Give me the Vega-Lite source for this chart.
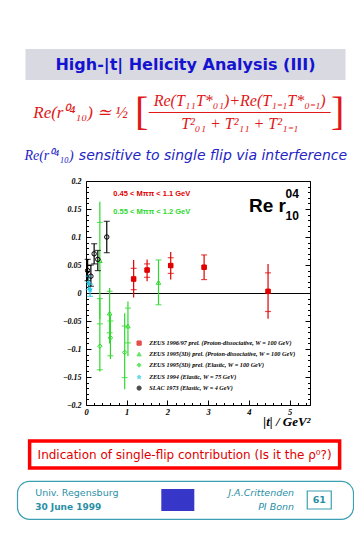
{
  "$schema": "https://vega.github.io/schema/vega-lite/v6.json",
  "background": "white",
  "padding": {"left": 16, "top": 49, "right": 0, "bottom": 0},
  "spacing": 10,
  "center": true,
  "config": {"view": {"stroke": null}},
  "vconcat": [
    {
      "width": 320, "height": 31,
      "view": {"fill": "#d9d9e1", "stroke": null},
      "data": {"values": [{}]},
      "mark": {"type": "text", "text": "High-|t| Helicity Analysis (III)", "font": "DejaVu Sans", "fontWeight": "bold", "fontSize": 16, "color": "#1414d0"}
    },
    {
      "spacing": 0,
      "hconcat": [
        {"width": 108, "height": 46, "data": {"values": [{}]},
         "mark": {"type": "text", "text": "Re(r⁰⁴₁₀) ≃ ½", "font": "Liberation Serif", "fontStyle": "italic", "fontSize": 17, "color": "#e01818"}},
        {"width": 8, "height": 46, "data": {"values": [{}]},
         "mark": {"type": "text", "text": "[", "font": "Liberation Serif", "fontSize": 40, "color": "#e01818"}},
        {"spacing": 0, "vconcat": [
          {"width": 182, "height": 22, "data": {"values": [{}]},
           "mark": {"type": "text", "text": "Re(T₁₁T*₀₁)+Re(T₁₋₁T*₀₋₁)", "font": "Liberation Serif", "fontStyle": "italic", "fontSize": 16, "color": "#e01818"}},
          {"width": 182, "height": 1, "view": {"fill": "#e01818", "stroke": null}, "data": {"values": []},
           "mark": {"type": "text", "text": ""}},
          {"width": 182, "height": 21, "data": {"values": [{}]},
           "mark": {"type": "text", "text": "T²₀₁ + T²₁₁ + T²₁₋₁", "font": "Liberation Serif", "fontStyle": "italic", "fontSize": 16, "color": "#e01818"}}
        ]},
        {"width": 8, "height": 46, "data": {"values": [{}]},
         "mark": {"type": "text", "text": "]", "font": "Liberation Serif", "fontSize": 40, "color": "#e01818"}}
      ]
    },
    {
      "spacing": 3,
      "hconcat": [
        {"width": 52, "height": 20, "data": {"values": [{}]},
         "mark": {"type": "text", "text": "Re(r⁰⁴₁₀)", "font": "Liberation Serif", "fontStyle": "italic", "fontSize": 14, "color": "#2424c4"}},
        {"width": 270, "height": 20, "data": {"values": [{}]},
         "mark": {"type": "text", "text": "sensitive to single flip via interference", "font": "DejaVu Sans", "fontStyle": "italic", "fontSize": 14, "color": "#2424c4"}}
      ]
    },
    {
      "spacing": 0,
      "hconcat": [
        {"width": 1, "height": 10, "data": {"values": []}, "mark": {"type": "text", "text": ""}},
        {
          "width": 224, "height": 224,
          "view": {"stroke": "black", "strokeWidth": 1},
          "data": {"values": [
            {"series": "ZEUS 1996/97 prel. (Proton-dissociative, W = 100 GeV)", "t": 1.17, "r": 0.025, "slo": 0.006, "shi": 0.044, "tlo": -0.008, "thi": 0.059},
            {"series": "ZEUS 1996/97 prel. (Proton-dissociative, W = 100 GeV)", "t": 1.50, "r": 0.041, "slo": 0.028, "shi": 0.052, "tlo": 0.021, "thi": 0.060},
            {"series": "ZEUS 1996/97 prel. (Proton-dissociative, W = 100 GeV)", "t": 2.08, "r": 0.049, "slo": 0.035, "shi": 0.063, "tlo": 0.024, "thi": 0.073},
            {"series": "ZEUS 1996/97 prel. (Proton-dissociative, W = 100 GeV)", "t": 2.90, "r": 0.046, "slo": 0.024, "shi": 0.068, "tlo": 0.024, "thi": 0.068},
            {"series": "ZEUS 1996/97 prel. (Proton-dissociative, W = 100 GeV)", "t": 4.47, "r": 0.003, "slo": -0.033, "shi": 0.036, "tlo": -0.046, "thi": 0.052},
            {"series": "ZEUS 1995(3D) prel. (Proton-dissociative, W = 100 GeV)", "t": 0.34, "r": 0.058, "slo": -0.010, "shi": 0.126, "tlo": -0.047, "thi": 0.163},
            {"series": "ZEUS 1995(3D) prel. (Proton-dissociative, W = 100 GeV)", "t": 0.58, "r": -0.036, "slo": -0.071, "shi": 0.003, "tlo": -0.090, "thi": 0.009},
            {"series": "ZEUS 1995(3D) prel. (Proton-dissociative, W = 100 GeV)", "t": 1.03, "r": -0.059, "slo": -0.089, "shi": -0.027, "tlo": -0.113, "thi": -0.015},
            {"series": "ZEUS 1995(3D) prel. (Proton-dissociative, W = 100 GeV)", "t": 1.78, "r": 0.019, "slo": -0.021, "shi": 0.059, "tlo": -0.021, "thi": 0.059},
            {"series": "ZEUS 1995(3D) prel. (Elastic, W = 100 GeV)", "t": 0.34, "r": -0.095, "slo": -0.137, "shi": -0.055, "tlo": -0.140, "thi": -0.010},
            {"series": "ZEUS 1995(3D) prel. (Elastic, W = 100 GeV)", "t": 0.60, "r": -0.080, "slo": -0.112, "shi": -0.050, "tlo": -0.118, "thi": -0.040},
            {"series": "ZEUS 1995(3D) prel. (Elastic, W = 100 GeV)", "t": 0.95, "r": -0.106, "slo": -0.151, "shi": -0.059, "tlo": -0.172, "thi": -0.036},
            {"series": "ZEUS 1994 (Elastic, W = 75 GeV)", "t": 0.06, "r": 0.018, "slo": 0.006, "shi": 0.030, "tlo": 0.006, "thi": 0.030},
            {"series": "ZEUS 1994 (Elastic, W = 75 GeV)", "t": 0.10, "r": 0.006, "slo": -0.006, "shi": 0.016, "tlo": -0.006, "thi": 0.016},
            {"series": "SLAC 1973 (Elastic, W = 4 GeV)", "t": 0.04, "r": 0.040, "slo": 0.022, "shi": 0.060, "tlo": 0.022, "thi": 0.060},
            {"series": "SLAC 1973 (Elastic, W = 4 GeV)", "t": 0.12, "r": 0.030, "slo": 0.012, "shi": 0.050, "tlo": 0.012, "thi": 0.050},
            {"series": "SLAC 1973 (Elastic, W = 4 GeV)", "t": 0.20, "r": 0.070, "slo": 0.052, "shi": 0.088, "tlo": 0.052, "thi": 0.088},
            {"series": "SLAC 1973 (Elastic, W = 4 GeV)", "t": 0.29, "r": 0.060, "slo": 0.040, "shi": 0.076, "tlo": 0.040, "thi": 0.076},
            {"series": "SLAC 1973 (Elastic, W = 4 GeV)", "t": 0.51, "r": 0.100, "slo": 0.072, "shi": 0.128, "tlo": 0.072, "thi": 0.128}
          ]},
          "resolve": {"axis": {"y": "independent"}},
          "layer": [
            {
              "mark": {"type": "rule", "strokeWidth": 1.2},
              "encoding": {
                "x": {"field": "t", "type": "quantitative", "scale": {"domain": [0, 5.5], "nice": false, "zero": false},
                  "axis": {"tickCount": 28, "tickSize": -5, "tickColor": "black", "tickWidth": 1,
                    "tickDash": {"condition": {"test": "abs(datum.value - round(datum.value)) < 0.000001", "value": []}, "value": [2.5, 20]},
                    "labelExpr": "abs(datum.value - round(datum.value)) < 0.000001 ? format(datum.value, 'd') : ''",
                    "labelOverlap": false, "labelFlush": false, "labelFont": "Liberation Serif", "labelFontStyle": "italic", "labelFontWeight": "bold", "labelFontSize": 8.5, "labelColor": "black", "labelPadding": 7,
                    "domain": false, "grid": false,
                    "title": "|t| / GeV²", "titleFont": "Liberation Serif", "titleFontStyle": "italic", "titleFontWeight": "bold", "titleFontSize": 13, "titleColor": "black", "titleAnchor": "end", "titlePadding": 0}},
                "y": {"field": "tlo", "type": "quantitative", "scale": {"domain": [-0.2, 0.2], "nice": false, "zero": false},
                  "axis": {"orient": "left", "tickCount": 40, "tickSize": -5, "tickColor": "black", "tickWidth": 1,
                    "tickDash": {"condition": {"test": "abs(datum.value * 20 - round(datum.value * 20)) < 0.000001", "value": []}, "value": [2.5, 20]},
                    "labelExpr": "abs(datum.value * 20 - round(datum.value * 20)) < 0.000001 ? format(datum.value, '.2~f') : ''",
                    "labelOverlap": false, "labelFont": "Liberation Serif", "labelFontStyle": "italic", "labelFontWeight": "bold", "labelFontSize": 8, "labelColor": "black", "labelPadding": 10,
                    "domain": false, "grid": true, "gridColor": "black", "gridWidth": 1,
                    "gridOpacity": {"condition": {"test": "abs(datum.value) < 0.000001", "value": 1}, "value": 0},
                    "title": null}},
                "y2": {"field": "thi"},
                "color": {"field": "series", "type": "nominal",
                  "scale": {"domain": ["ZEUS 1996/97 prel. (Proton-dissociative, W = 100 GeV)", "ZEUS 1995(3D) prel. (Proton-dissociative, W = 100 GeV)", "ZEUS 1995(3D) prel. (Elastic, W = 100 GeV)", "ZEUS 1994 (Elastic, W = 75 GeV)", "SLAC 1973 (Elastic, W = 4 GeV)"],
                    "range": ["#e00000", "#2ed82e", "#2ed82e", "#1ec8e6", "#000000"]}}
              }
            },
            {
              "mark": {"type": "tick", "orient": "horizontal", "size": 6, "thickness": 1.2},
              "encoding": {
                "x": {"field": "t", "type": "quantitative", "scale": {"domain": [0, 5.5], "nice": false, "zero": false}},
                "y": {"field": "slo", "type": "quantitative", "scale": {"domain": [-0.2, 0.2], "nice": false, "zero": false},
                  "axis": {"orient": "right", "tickCount": 40, "tickSize": -5, "tickColor": "black", "tickWidth": 1,
                    "tickDash": {"condition": {"test": "abs(datum.value * 20 - round(datum.value * 20)) < 0.000001", "value": []}, "value": [2.5, 20]},
                    "labels": false, "domain": false, "grid": false, "title": null}},
                "color": {"field": "series", "type": "nominal"}
              }
            },
            {
              "mark": {"type": "tick", "orient": "horizontal", "size": 6, "thickness": 1.2},
              "encoding": {
                "x": {"field": "t", "type": "quantitative", "scale": {"domain": [0, 5.5], "nice": false, "zero": false}},
                "y": {"field": "shi", "type": "quantitative", "scale": {"domain": [-0.2, 0.2], "nice": false, "zero": false}, "axis": null},
                "color": {"field": "series", "type": "nominal"}
              }
            },
            {
              "mark": {"type": "point", "filled": false, "size": 20, "strokeWidth": 1, "opacity": 1},
              "encoding": {
                "x": {"field": "t", "type": "quantitative", "scale": {"domain": [0, 5.5], "nice": false, "zero": false}},
                "y": {"field": "r", "type": "quantitative", "scale": {"domain": [-0.2, 0.2], "nice": false, "zero": false}, "axis": null},
                "color": {"field": "series", "type": "nominal",
                  "legend": {"orient": "none", "legendX": 119, "legendY": 291, "title": null, "labelFont": "Liberation Serif", "labelFontStyle": "italic", "labelFontWeight": "bold", "labelFontSize": 6.2, "labelLimit": 400, "labelOffset": 7, "rowPadding": 2, "symbolSize": 18, "symbolStrokeWidth": 1,
                    "encode": {"labels": {"update": {"fill": {"scale": "color", "field": "value"}}},
                      "symbols": {"update": {"fill": [{"test": "datum.value === 'ZEUS 1996/97 prel. (Proton-dissociative, W = 100 GeV)'", "value": "#e00000"}, {"value": "white"}]}}}}},
                "shape": {"field": "series", "type": "nominal",
                  "scale": {"domain": ["ZEUS 1996/97 prel. (Proton-dissociative, W = 100 GeV)", "ZEUS 1995(3D) prel. (Proton-dissociative, W = 100 GeV)", "ZEUS 1995(3D) prel. (Elastic, W = 100 GeV)", "ZEUS 1994 (Elastic, W = 75 GeV)", "SLAC 1973 (Elastic, W = 4 GeV)"],
                    "range": ["square", "triangle-up", "diamond", "M0,-1L0.235,-0.324L0.951,-0.309L0.38,0.124L0.588,0.809L0,0.4L-0.588,0.809L-0.38,0.124L-0.951,-0.309L-0.235,-0.324Z", "circle"]},
                  "legend": {"orient": "none", "legendX": 119, "legendY": 291, "title": null, "labelFont": "Liberation Serif", "labelFontStyle": "italic", "labelFontWeight": "bold", "labelFontSize": 6.2, "labelLimit": 400, "labelOffset": 7, "rowPadding": 2, "symbolSize": 18, "symbolStrokeWidth": 1,
                    "encode": {"labels": {"update": {"fill": {"scale": "color", "field": "value"}}},
                      "symbols": {"update": {"fill": [{"test": "datum.value === 'ZEUS 1996/97 prel. (Proton-dissociative, W = 100 GeV)'", "value": "#e00000"}, {"value": "white"}]}}}}}
              }
            },
            {
              "transform": [{"filter": "datum.series === 'ZEUS 1996/97 prel. (Proton-dissociative, W = 100 GeV)'"}],
              "mark": {"type": "point", "shape": "square", "filled": true, "size": 22, "color": "#e00000", "opacity": 1},
              "encoding": {
                "x": {"field": "t", "type": "quantitative", "scale": {"domain": [0, 5.5], "nice": false, "zero": false}},
                "y": {"field": "r", "type": "quantitative", "scale": {"domain": [-0.2, 0.2], "nice": false, "zero": false}, "axis": null}
              }
            },
            {
              "data": {"values": [{}]},
              "mark": {"type": "text", "text": "0.45 < Mππ < 1.1 GeV", "align": "left", "baseline": "middle", "font": "Liberation Sans", "fontWeight": "bold", "fontSize": 7.5, "color": "#e00000"},
              "encoding": {
                "x": {"datum": 0.67, "type": "quantitative", "scale": {"domain": [0, 5.5], "nice": false, "zero": false}},
                "y": {"datum": 0.176, "type": "quantitative", "scale": {"domain": [-0.2, 0.2], "nice": false, "zero": false}, "axis": null}
              }
            },
            {
              "data": {"values": [{}]},
              "mark": {"type": "text", "text": "0.55 < Mππ < 1.2 GeV", "align": "left", "baseline": "middle", "font": "Liberation Sans", "fontWeight": "bold", "fontSize": 7.5, "color": "#2ed82e"},
              "encoding": {
                "x": {"datum": 0.67, "type": "quantitative", "scale": {"domain": [0, 5.5], "nice": false, "zero": false}},
                "y": {"datum": 0.145, "type": "quantitative", "scale": {"domain": [-0.2, 0.2], "nice": false, "zero": false}, "axis": null}
              }
            },
            {
              "data": {"values": [{}]},
              "mark": {"type": "text", "text": "Re r", "align": "left", "baseline": "alphabetic", "font": "Liberation Sans", "fontWeight": "bold", "fontSize": 19, "color": "black"},
              "encoding": {
                "x": {"datum": 4.0, "type": "quantitative", "scale": {"domain": [0, 5.5], "nice": false, "zero": false}},
                "y": {"datum": 0.145, "type": "quantitative", "scale": {"domain": [-0.2, 0.2], "nice": false, "zero": false}, "axis": null}
              }
            },
            {
              "data": {"values": [{}]},
              "mark": {"type": "text", "text": "04", "align": "left", "baseline": "alphabetic", "font": "Liberation Sans", "fontWeight": "bold", "fontSize": 12, "color": "black"},
              "encoding": {
                "x": {"datum": 4.9, "type": "quantitative", "scale": {"domain": [0, 5.5], "nice": false, "zero": false}},
                "y": {"datum": 0.170, "type": "quantitative", "scale": {"domain": [-0.2, 0.2], "nice": false, "zero": false}, "axis": null}
              }
            },
            {
              "data": {"values": [{}]},
              "mark": {"type": "text", "text": "10", "align": "left", "baseline": "alphabetic", "font": "Liberation Sans", "fontWeight": "bold", "fontSize": 12, "color": "black"},
              "encoding": {
                "x": {"datum": 4.9, "type": "quantitative", "scale": {"domain": [0, 5.5], "nice": false, "zero": false}},
                "y": {"datum": 0.131, "type": "quantitative", "scale": {"domain": [-0.2, 0.2], "nice": false, "zero": false}, "axis": null}
              }
            }
          ]
        }
      ]
    },
    {
      "width": 310, "height": 27,
      "view": {"stroke": "#ff0000", "strokeWidth": 3.5, "fill": "white"},
      "data": {"values": [{}]},
      "mark": {"type": "text", "text": "Indication of single-flip contribution (Is it the ρ⁰?)", "font": "DejaVu Sans", "fontSize": 12, "color": "#e00000"}
    },
    {
      "width": 336, "height": 38,
      "view": {"stroke": "#3c9fb3", "strokeWidth": 1.2, "cornerRadius": 12, "fill": "white"},
      "data": {"values": [
        {"slot": "left", "line": "top", "text": "Univ. Regensburg"},
        {"slot": "left", "line": "bottom", "text": "30 June 1999"},
        {"slot": "right", "line": "top", "text": "J.A.Crittenden"},
        {"slot": "right", "line": "bottom", "text": "PI Bonn"},
        {"slot": "logo", "line": "top", "text": ""},
        {"slot": "page", "line": "top", "text": "61"}
      ]},
      "resolve": {"scale": {"x": "independent"}},
      "layer": [
        {
          "transform": [{"filter": "datum.slot === 'logo'"}],
          "mark": {"type": "point", "shape": "M-1.5,-1H1.5V1H-1.5Z", "size": 484, "filled": true, "color": "#3636c8", "opacity": 1},
          "encoding": {"x": {"field": "slot", "type": "nominal", "scale": {"type": "point", "domain": ["logo"], "padding": 0, "align": 0.478}, "axis": null}}
        },
        {
          "transform": [{"filter": "datum.slot === 'page'"}],
          "mark": {"type": "point", "shape": "M-1.333,-1H1.333V1H-1.333Z", "size": 324, "filled": false, "color": "#3c9fb3", "strokeWidth": 1.2, "opacity": 1},
          "encoding": {"x": {"field": "slot", "type": "nominal", "scale": {"type": "point", "domain": ["page"], "padding": 0, "align": 0.899}, "axis": null}}
        },
        {
          "transform": [{"filter": "datum.slot === 'page'"}],
          "mark": {"type": "text", "font": "DejaVu Sans", "fontWeight": "bold", "fontSize": 9.5, "color": "#2a8fa6"},
          "encoding": {
            "x": {"field": "slot", "type": "nominal", "scale": {"type": "point", "domain": ["page"], "padding": 0, "align": 0.899}, "axis": null},
            "text": {"field": "text"}
          }
        },
        {
          "transform": [{"filter": "datum.slot === 'left' && datum.line === 'top'"}],
          "mark": {"type": "text", "align": "left", "font": "DejaVu Sans", "fontSize": 9.5, "color": "#2a8fa6"},
          "encoding": {
            "x": {"field": "slot", "type": "nominal", "scale": {"type": "point", "domain": ["left"], "padding": 0, "align": 0.0536}, "axis": null},
            "y": {"field": "line", "type": "nominal", "scale": {"type": "point", "domain": ["top", "bottom"], "padding": 0.857}, "axis": null},
            "text": {"field": "text"}
          }
        },
        {
          "transform": [{"filter": "datum.slot === 'left' && datum.line === 'bottom'"}],
          "mark": {"type": "text", "align": "left", "font": "DejaVu Sans", "fontWeight": "bold", "fontSize": 9, "color": "#2a8fa6"},
          "encoding": {
            "x": {"field": "slot", "type": "nominal", "scale": {"type": "point", "domain": ["left"], "padding": 0, "align": 0.0536}, "axis": null},
            "y": {"field": "line", "type": "nominal", "scale": {"type": "point", "domain": ["top", "bottom"], "padding": 0.857}, "axis": null},
            "text": {"field": "text"}
          }
        },
        {
          "transform": [{"filter": "datum.slot === 'right'"}],
          "mark": {"type": "text", "align": "right", "font": "DejaVu Sans", "fontStyle": "italic", "fontSize": 9.5, "color": "#2a8fa6"},
          "encoding": {
            "x": {"field": "slot", "type": "nominal", "scale": {"type": "point", "domain": ["right"], "padding": 0, "align": 0.824}, "axis": null},
            "y": {"field": "line", "type": "nominal", "scale": {"type": "point", "domain": ["top", "bottom"], "padding": 0.857}, "axis": null},
            "text": {"field": "text"}
          }
        }
      ]
    }
  ]
}
